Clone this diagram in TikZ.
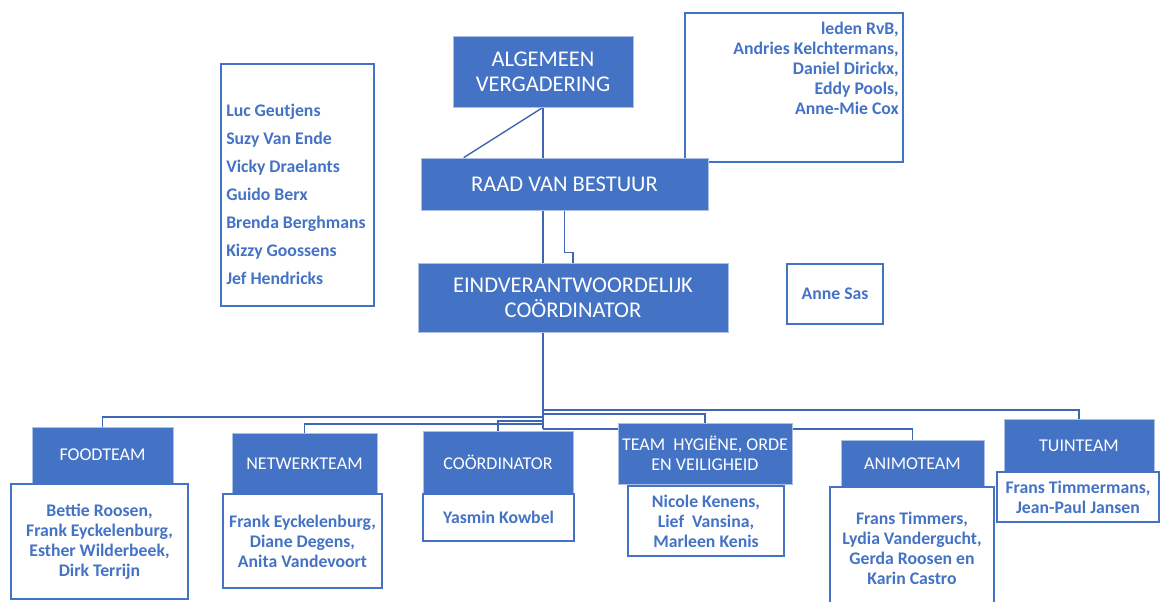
\documentclass[tikz,border=0pt]{standalone}
\usepackage{fontspec}
\setmainfont{Carlito}
\usetikzlibrary{calc,backgrounds}
\definecolor{officeblue}{HTML}{4472C4}
\definecolor{linkblue}{HTML}{3F66B3}

\begin{document}
\begin{tikzpicture}[
    x=0.025cm, y=-0.025cm,
    sz/.style 2 args={minimum width=#1*0.025cm, minimum height=#2*0.025cm},
    head/.style={rectangle, draw=officeblue!45, line width=0.5pt, fill=officeblue, text=white, align=center, inner sep=0pt, font=\fontsize{16}{17.8}\selectfont},
    team/.style={head, font=\fontsize{12.8}{14.2}\selectfont},
    namebox/.style={rectangle, draw=officeblue, line width=1pt, fill=white},
    names/.style={text=officeblue, inner sep=0pt, font=\fontsize{12.6}{14.2}\selectfont\bfseries},
    members/.style={namebox, names, align=center},
    link/.style={draw=linkblue, line width=1pt},
]
\useasboundingbox (0,0) rectangle (1160,601);
\clip (0,0) rectangle (1160,601);

\node[head, sz={180}{71}] (av) at (543,71.5) {ALGEMEEN\\VERGADERING};
\node[namebox, sz={218}{149}] (ledenbox) at (794,87.5) {};
\node[names, align=right, anchor=north east] (leden) at (899,22) {leden RvB,\\Andries Kelchtermans,\\Daniel Dirickx,\\Eddy Pools,\\Anne-Mie Cox};
\node[head, sz={287}{52}] (rvb) at (564.5,184) {RAAD VAN BESTUUR};
\node[head, sz={310}{69}] (ec) at (573,297.5) {EINDVERANTWOORDELIJK\\COÖRDINATOR};

\node[namebox, sz={153}{242}] (lijstbox) at (297.5,185) {};
\node[names, align=left, anchor=north west, font=\fontsize{12.6}{19.9}\selectfont\bfseries] (lijst) at (226,104) {Luc Geutjens\\Suzy Van Ende\\Vicky Draelants\\Guido Berx\\Brenda Berghmans\\Kizzy Goossens\\Jef Hendricks};
\node[members, sz={96}{60}] (anne) at (835,294) {Anne Sas};

\node[team, sz={141}{56}] (food) at (102.5,455) {FOODTEAM};
\node[team, sz={145}{61}] (net) at (304.5,463.5) {NETWERKTEAM};
\node[team, sz={150}{63}] (coord) at (498,462.5) {COÖRDINATOR};
\node[team, sz={174}{61}] (hyg) at (705,453.5) {TEAM~ HYGIËNE, ORDE\\EN VEILIGHEID};
\node[team, sz={143}{47}] (animo) at (912.5,463.5) {ANIMOTEAM};
\node[team, sz={150}{53}] (tuin) at (1079,445.5) {TUINTEAM};

\node[members, sz={177}{115}] (foodm) at (99.5,541.5) {Bettie Roosen,\\Frank Eyckelenburg,\\Esther Wilderbeek,\\Dirk Terrijn};
\node[members, sz={159}{94}] (netm) at (302.5,541) {Frank Eyckelenburg,\\Diane Degens,\\Anita Vandevoort};
\node[members, sz={151}{47}] (coordm) at (498.5,517.5) {Yasmin Kowbel};
\node[members, sz={156}{70}] (hygm) at (706,521) {Nicole Kenens,\\Lief~ Vansina,\\Marleen Kenis};
\node[members, sz={164}{122}] (animom) at (912,548) {Frans Timmers,\\Lydia Vandergucht,\\Gerda Roosen en\\Karin Castro};
\node[members, sz={162}{50}] (tuinm) at (1078,497) {Frans Timmermans,\\Jean-Paul Jansen};

\coordinate (b1) at (543,410);
\coordinate (b2) at (543,414);
\coordinate (b3) at (543,417);
\coordinate (b4) at (543,421);
\coordinate (b5) at (543,424);
\coordinate (b6) at (543,429);

\begin{scope}[on background layer]
\draw[link] (av.south) -- (av.south |- rvb.north);
\draw[link] (av.south) -- ($(rvb.north west)+(43,0)$);
\draw[link] (av.south |- rvb.south) -- (av.south |- ec.north);
\draw[link] (rvb.south) -- ++(0,42) -| (ec.north);
\draw[link] (av.south |- ec.south) -- (b6);
\draw[link] (b1) -| (tuin.north);
\draw[link] (b2) -| (hyg.north);
\draw[link] (b3) -| (food.north);
\draw[link] (b4) -| (coord.north);
\draw[link] (b5) -| (net.north);
\draw[link] (b6) -| (animo.north);
\end{scope}
\end{tikzpicture}
\end{document}
